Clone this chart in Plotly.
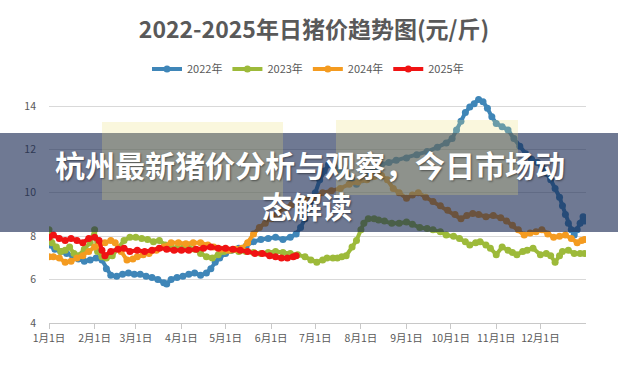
import pandas as pd
import plotly.graph_objects as go

# ---------------- data ----------------
month_ticks = ["01-01", "02-01", "03-01", "04-01", "05-01", "06-01",
               "07-01", "08-01", "09-01", "10-01", "11-01", "12-01"]
tick_labels = ["1月1日", "2月1日", "3月1日", "4月1日", "5月1日", "6月1日",
               "7月1日", "8月1日", "9月1日", "10月1日", "11月1日", "12月1日"]
y_ticks = [4, 6, 8, 10, 12, 14]

dates_2022 = ["01-01", "01-05", "01-09", "01-13", "01-17", "01-21", "01-25", "01-29", "02-02", "02-06",
              "02-09", "02-12", "02-16", "02-20", "02-24", "02-28", "03-04", "03-08", "03-12", "03-16",
              "03-20", "03-22", "03-25", "03-29", "04-02", "04-06", "04-10", "04-14", "04-18", "04-21",
              "04-24", "04-27", "05-01", "05-05", "05-10", "05-15", "05-20", "05-25", "05-30", "06-04",
              "06-09", "06-14", "06-18", "06-21", "06-24", "06-27", "07-01", "07-04", "07-07", "07-10",
              "07-14", "07-18", "07-22", "07-26", "07-29", "08-02", "08-06", "08-10", "08-15", "08-20",
              "08-25", "09-01", "09-08", "09-15", "09-22", "09-28", "10-02", "10-05", "10-08", "10-11",
              "10-14", "10-17", "10-20", "10-23", "10-26", "10-29", "11-01", "11-05", "11-09", "11-13",
              "11-17", "11-21", "11-25", "11-29", "12-02", "12-05", "12-08", "12-11", "12-14", "12-16",
              "12-18", "12-20", "12-22", "12-24", "12-26", "12-28", "12-30", "12-31"]
values_2022 = [7.6, 7.4, 7.3, 7.2, 7.1, 6.95, 6.85, 6.9, 7.0, 6.9,
               6.5, 6.2, 6.15, 6.25, 6.3, 6.25, 6.25, 6.15, 6.1, 6.0,
               5.85, 5.8, 6.0, 6.1, 6.15, 6.25, 6.3, 6.2, 6.3, 6.5,
               6.8, 7.0, 7.2, 7.35, 7.45, 7.55, 7.75, 7.85, 7.9, 7.95,
               7.85, 7.95, 8.1, 8.4, 8.8, 9.3, 10.0, 10.6, 11.0, 11.3,
               11.2, 11.05, 10.9, 10.6, 10.4, 10.6, 10.9, 11.1, 11.3, 11.4,
               11.5, 11.6, 11.75, 11.9, 12.1, 12.3, 12.5, 12.9, 13.3, 13.7,
               13.95, 14.1, 14.3, 14.2, 13.9, 13.5, 13.2, 13.05, 12.9, 12.5,
               12.15, 11.8, 11.55, 11.4, 11.2, 10.9, 10.6, 10.2, 9.8, 9.4,
               9.0, 8.6, 8.3, 8.05, 8.3, 8.6, 8.9, 8.7]

dates_2023 = ["01-01", "01-03", "01-06", "01-09", "01-12", "01-15", "01-18", "01-21", "01-25", "01-29",
              "02-01", "02-03", "02-06", "02-09", "02-13", "02-17", "02-21", "02-25", "03-01", "03-05",
              "03-09", "03-13", "03-17", "03-21", "03-25", "03-29", "04-02", "04-06", "04-10", "04-14",
              "04-18", "04-22", "04-26", "04-30", "05-05", "05-10", "05-15", "05-20", "05-25", "05-30",
              "06-04", "06-09", "06-14", "06-19", "06-24", "06-28", "07-02", "07-06", "07-09", "07-13",
              "07-16", "07-19", "07-22", "07-26", "07-29", "08-01", "08-03", "08-06", "08-10", "08-13",
              "08-17", "08-22", "08-27", "09-01", "09-05", "09-10", "09-15", "09-19", "09-24", "09-28",
              "10-03", "10-07", "10-11", "10-14", "10-18", "10-21", "10-25", "10-28", "11-01", "11-05",
              "11-09", "11-12", "11-15", "11-19", "11-22", "11-26", "12-01", "12-05", "12-08", "12-11",
              "12-14", "12-16", "12-20", "12-24", "12-28", "12-31"]
values_2023 = [8.3, 7.7, 7.5, 7.3, 7.35, 7.5, 7.2, 7.1, 7.4, 7.7,
               8.3, 7.3, 7.05, 7.0, 7.1, 7.45, 7.8, 7.95, 7.95, 7.9,
               7.85, 7.75, 7.8, 7.6, 7.5, 7.45, 7.45, 7.45, 7.4, 7.2,
               7.05, 7.0, 7.15, 7.3, 7.35, 7.3, 7.3, 7.25, 7.2, 7.25,
               7.3, 7.25, 7.2, 7.15, 7.05, 6.9, 6.8, 6.9, 7.0, 7.0,
               7.0, 7.05, 7.1, 7.5, 7.8, 8.3, 8.6, 8.8, 8.8, 8.75,
               8.7, 8.6, 8.6, 8.65, 8.55, 8.4, 8.35, 8.3, 8.2, 8.05,
               8.0, 7.9, 7.75, 7.6, 7.7, 7.75, 7.6, 7.45, 7.15, 7.5,
               7.35, 7.25, 7.15, 7.3, 7.35, 7.45, 7.15, 7.2, 7.1, 6.8,
               7.1, 7.3, 7.35, 7.2, 7.2, 7.2]

dates_2024 = ["01-01", "01-04", "01-08", "01-12", "01-16", "01-20", "01-24", "01-28", "02-01", "02-04",
              "02-08", "02-12", "02-15", "02-19", "02-23", "02-27", "03-02", "03-06", "03-10", "03-15",
              "03-20", "03-25", "03-30", "04-04", "04-09", "04-14", "04-19", "04-23", "04-28", "05-03",
              "05-08", "05-12", "05-16", "05-20", "05-24", "05-28", "06-01", "06-05", "06-10", "06-15",
              "06-20", "06-25", "07-01", "07-06", "07-12", "07-18", "07-24", "07-30", "08-05", "08-10",
              "08-15", "08-19", "08-23", "08-27", "09-01", "09-05", "09-09", "09-14", "09-19", "09-24",
              "09-29", "10-04", "10-08", "10-12", "10-16", "10-20", "10-25", "10-30", "11-04", "11-08",
              "11-12", "11-16", "11-20", "11-24", "11-28", "12-02", "12-06", "12-10", "12-14", "12-18",
              "12-22", "12-26", "12-29", "12-31"]
values_2024 = [7.05, 7.05, 7.0, 6.8, 6.85, 7.0, 7.1, 7.3, 7.5, 7.6,
               7.7, 7.8, 7.7, 7.3, 6.9, 6.95, 7.05, 7.15, 7.2, 7.35,
               7.5, 7.7, 7.7, 7.65, 7.7, 7.7, 7.6, 7.5, 7.4, 7.35,
               7.4, 7.45, 7.7, 8.1, 8.4, 8.6, 8.8, 9.0, 9.3, 9.45,
               9.6, 9.7, 9.8, 10.0, 10.1, 10.2, 10.4, 10.5, 10.6, 10.75,
               10.8, 10.6, 10.2, 10.0, 9.75, 9.9, 10.0, 9.8, 9.6, 9.4,
               9.2, 9.0, 8.8, 8.95, 9.05, 9.0, 8.9, 8.95, 8.85, 8.7,
               8.5, 8.3, 8.05, 8.15, 8.2, 8.3, 8.1, 7.95, 8.0, 8.05,
               7.9, 7.7, 7.8, 7.85]

dates_2025 = ["01-01", "01-04", "01-08", "01-12", "01-16", "01-20", "01-24", "01-28", "02-01", "02-04",
              "02-06", "02-08", "02-12", "02-17", "02-21", "02-25", "03-02", "03-07", "03-12", "03-17",
              "03-22", "03-27", "04-01", "04-06", "04-11", "04-16", "04-21", "04-26", "05-01", "05-06",
              "05-11", "05-16", "05-21", "05-26", "05-31", "06-04", "06-08", "06-12", "06-16", "06-18"]
values_2025 = [7.95, 8.05, 7.9, 7.8, 7.9, 7.8, 7.7, 7.9, 7.95, 7.8,
               7.35, 7.1, 7.3, 7.4, 7.45, 7.3, 7.35, 7.3, 7.35, 7.45,
               7.4, 7.35, 7.35, 7.35, 7.4, 7.45, 7.5, 7.45, 7.45, 7.4,
               7.35, 7.3, 7.2, 7.2, 7.1, 7.05, 7.0, 7.0, 7.05, 7.1]

series_names = ["2022年", "2023年", "2024年", "2025年"]
series_dates = [dates_2022, dates_2023, dates_2024, dates_2025]
series_values = [values_2022, values_2023, values_2024, values_2025]
series_colors = ["#3f86b8", "#9dba3a", "#f49b20", "#f01313"]

title_text = "2022-2025年日猪价趋势图(元/斤)"
banner_line1 = "杭州最新猪价分析与观察，今日市场动"
banner_line2 = "态解读"

# ---------------- figure ----------------
BASE_YEAR = "2023-"
FONT = "Noto Sans CJK SC"

def to_dt(md_list):
    return pd.to_datetime([BASE_YEAR + md for md in md_list])

fig = go.Figure()
for name, d, v, c in zip(series_names, series_dates, series_values, series_colors):
    fig.add_trace(go.Scatter(
        x=to_dt(d), y=v, name=name, mode="lines+markers",
        line=dict(color=c, width=4),
        marker=dict(color=c, size=7),
    ))

W, H = 618, 366
L, R, T, B = 49, 32, 93, 43
pw, ph = W - L - R, H - T - B

def px_x(x):
    return (x - L) / pw

def px_y(y):
    return (H - B - y) / ph

shapes = []
# banner
shapes.append(dict(type="rect", xref="paper", yref="paper",
                   x0=px_x(-5), x1=px_x(W + 5), y0=px_y(232), y1=px_y(133),
                   fillcolor="rgba(23,39,81,0.62)", line=dict(width=0), layer="above"))
# faint watermark patches
shapes.append(dict(type="rect", xref="paper", yref="paper",
                   x0=px_x(102), x1=px_x(283), y0=px_y(200), y1=px_y(122),
                   fillcolor="rgba(235,225,120,0.25)", line=dict(width=0), layer="above"))
shapes.append(dict(type="rect", xref="paper", yref="paper",
                   x0=px_x(336), x1=px_x(518), y0=px_y(195), y1=px_y(120),
                   fillcolor="rgba(235,225,120,0.25)", line=dict(width=0), layer="above"))

annotations = [
    dict(text=banner_line1, xref="paper", yref="paper", x=px_x(310), y=px_y(164),
         showarrow=False, xanchor="center", yanchor="middle",
         font=dict(family=FONT, size=30, color="white", weight="bold",
                   shadow="1px 1px 2px rgba(0,0,0,0.45)")),
    dict(text=banner_line2, xref="paper", yref="paper", x=px_x(307), y=px_y(205),
         showarrow=False, xanchor="center", yanchor="middle",
         font=dict(family=FONT, size=30, color="white", weight="bold",
                   shadow="1px 1px 2px rgba(0,0,0,0.45)")),
]

fig.update_layout(
    width=W, height=H,
    margin=dict(l=L, r=R, t=T, b=B, autoexpand=False),
    paper_bgcolor="white", plot_bgcolor="white",
    font=dict(family=FONT, color="#595959"),
    title=dict(text="<b>" + title_text + "</b>", x=314 / W, y=1 - 30 / H,
               xref="container", yref="container", xanchor="center", yanchor="middle",
               font=dict(family=FONT, size=23, color="#595959")),
    legend=dict(orientation="h", x=px_x(308), xanchor="center", y=px_y(69), yanchor="middle",
                font=dict(family=FONT, size=11, color="#595959"), bgcolor="rgba(0,0,0,0)",
                traceorder="normal"),
    showlegend=True,
    shapes=shapes,
    annotations=annotations,
    xaxis=dict(type="date", range=["2023-01-01", "2024-01-01"],
               tickvals=to_dt(month_ticks), ticktext=tick_labels,
               showgrid=False, showline=True, linecolor="#c8c8c8", linewidth=1,
               ticks="outside", ticklen=5, tickcolor="#c8c8c8",
               tickfont=dict(family=FONT, size=10.5, color="#595959"), zeroline=False),
    yaxis=dict(range=[4, 14.6], tickvals=y_ticks, showgrid=True, gridcolor="#d9d9d9",
               gridwidth=1, zeroline=False, showline=False, ticks="",
               ticklabelstandoff=12,
               tickfont=dict(family=FONT, size=10.5, color="#595959")),
)

fig.write_html("out.html",
               config={"displayModeBar": False},
               post_script="document.body.style.margin='0';document.body.style.padding='0';")
